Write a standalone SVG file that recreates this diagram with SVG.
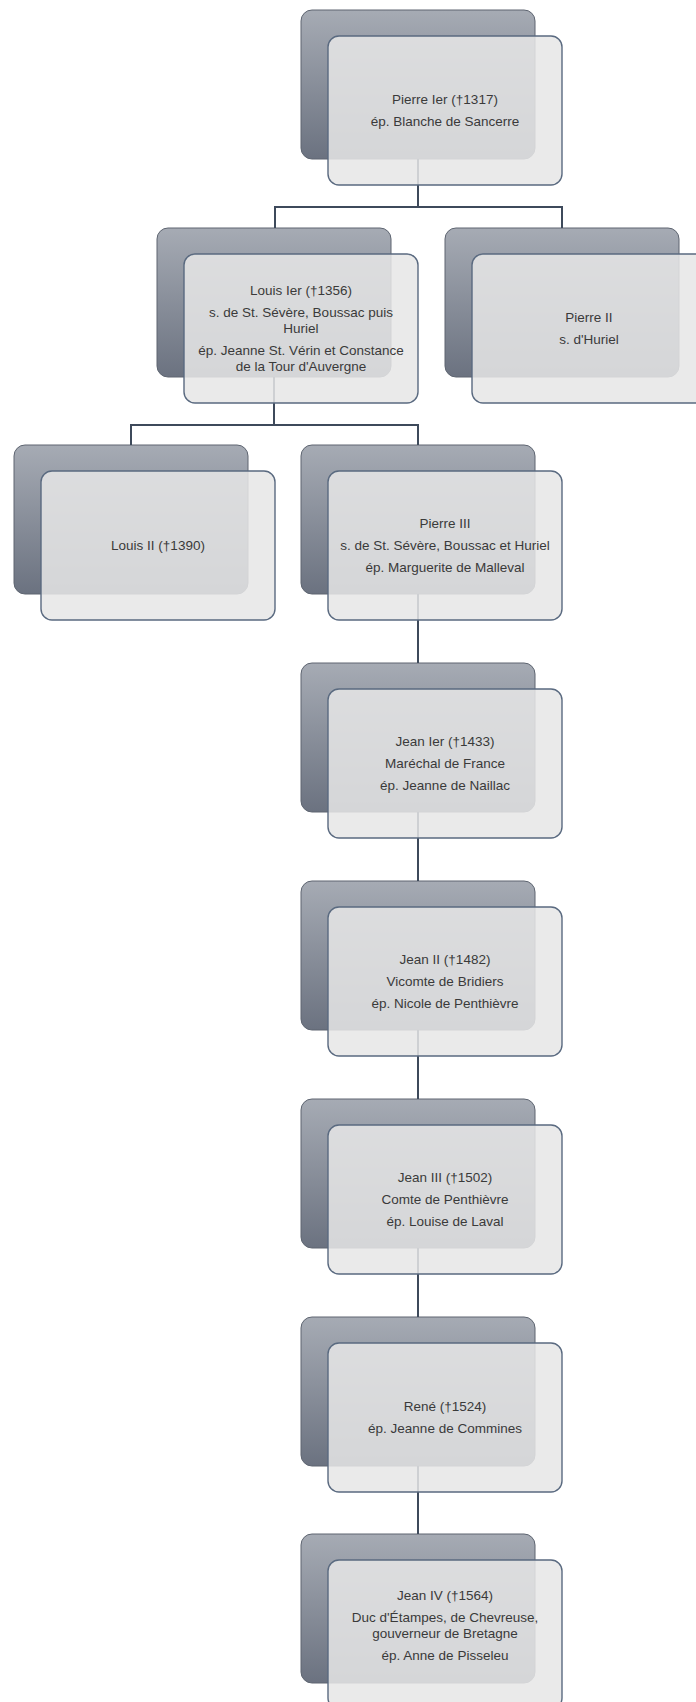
<svg xmlns="http://www.w3.org/2000/svg" width="696" height="1702" viewBox="0 0 696 1702">
<defs>
<linearGradient id="backGrad" x1="0" y1="0" x2="0" y2="1">
<stop offset="0" stop-color="#a6abb4"/>
<stop offset="1" stop-color="#6b7280"/>
</linearGradient>
<style>
.back{fill:url(#backGrad);stroke:#5e6571;stroke-width:1}
.front{fill:#e6e6e6;fill-opacity:0.86;stroke:#5a6a80;stroke-width:1.4}
.conn{fill:none;stroke:#3e4a5b;stroke-width:2}
text{font-family:"Liberation Sans",Arial,sans-serif;font-size:13.5px;fill:#3a3a3a;text-anchor:middle}
</style>
</defs>

<g id="backs">
<rect class="back" x="301" y="10" width="234" height="149" rx="11"/>
<rect class="back" x="157" y="228" width="234" height="149" rx="11"/>
<rect class="back" x="445" y="228" width="234" height="149" rx="11"/>
<rect class="back" x="14" y="445" width="234" height="149" rx="11"/>
<rect class="back" x="301" y="445" width="234" height="149" rx="11"/>
<rect class="back" x="301" y="663" width="234" height="149" rx="11"/>
<rect class="back" x="301" y="881" width="234" height="149" rx="11"/>
<rect class="back" x="301" y="1099" width="234" height="149" rx="11"/>
<rect class="back" x="301" y="1317" width="234" height="149" rx="11"/>
<rect class="back" x="301" y="1534" width="234" height="149" rx="11"/>
</g>

<g id="connectors">
<path class="conn" d="M418 159 V207 M275 207 H562 M275 206 V228 M562 206 V228"/>
<path class="conn" d="M274 377 V425 M131 425 H418 M131 424 V445 M418 424 V445"/>
<path class="conn" d="M418 594 V663"/>
<path class="conn" d="M418 812 V881"/>
<path class="conn" d="M418 1030 V1099"/>
<path class="conn" d="M418 1248 V1317"/>
<path class="conn" d="M418 1466 V1534"/>
</g>

<g id="node-pierre1">
<rect class="front" x="328" y="36" width="234" height="149" rx="11"/>
<text x="445" y="104">Pierre Ier (†1317)</text>
<text x="445" y="126">ép. Blanche de Sancerre</text>
</g>

<g id="node-louis1">
<rect class="front" x="184" y="254" width="234" height="149" rx="11"/>
<text x="301" y="295">Louis Ier (†1356)</text>
<text x="301" y="317">s. de St. Sévère, Boussac puis</text>
<text x="301" y="333">Huriel</text>
<text x="301" y="355">ép. Jeanne St. Vérin et Constance</text>
<text x="301" y="371">de la Tour d'Auvergne</text>
</g>

<g id="node-pierre2">
<rect class="front" x="472" y="254" width="234" height="149" rx="11"/>
<text x="589" y="322">Pierre II</text>
<text x="589" y="344">s. d'Huriel</text>
</g>

<g id="node-louis2">
<rect class="front" x="41" y="471" width="234" height="149" rx="11"/>
<text x="158" y="550">Louis II (†1390)</text>
</g>

<g id="node-pierre3">
<rect class="front" x="328" y="471" width="234" height="149" rx="11"/>
<text x="445" y="528">Pierre III</text>
<text x="445" y="550">s. de St. Sévère, Boussac et Huriel</text>
<text x="445" y="572">ép. Marguerite de Malleval</text>
</g>

<g id="node-jean1">
<rect class="front" x="328" y="689" width="234" height="149" rx="11"/>
<text x="445" y="746">Jean Ier (†1433)</text>
<text x="445" y="768">Maréchal de France</text>
<text x="445" y="790">ép. Jeanne de Naillac</text>
</g>

<g id="node-jean2">
<rect class="front" x="328" y="907" width="234" height="149" rx="11"/>
<text x="445" y="964">Jean II (†1482)</text>
<text x="445" y="986">Vicomte de Bridiers</text>
<text x="445" y="1008">ép. Nicole de Penthièvre</text>
</g>

<g id="node-jean3">
<rect class="front" x="328" y="1125" width="234" height="149" rx="11"/>
<text x="445" y="1182">Jean III (†1502)</text>
<text x="445" y="1204">Comte de Penthièvre</text>
<text x="445" y="1226">ép. Louise de Laval</text>
</g>

<g id="node-rene">
<rect class="front" x="328" y="1343" width="234" height="149" rx="11"/>
<text x="445" y="1411">René (†1524)</text>
<text x="445" y="1433">ép. Jeanne de Commines</text>
</g>

<g id="node-jean4">
<rect class="front" x="328" y="1560" width="234" height="149" rx="11"/>
<text x="445" y="1600">Jean IV (†1564)</text>
<text x="445" y="1622">Duc d'Étampes, de Chevreuse,</text>
<text x="445" y="1638">gouverneur de Bretagne</text>
<text x="445" y="1660">ép. Anne de Pisseleu</text>
</g>
</svg>
